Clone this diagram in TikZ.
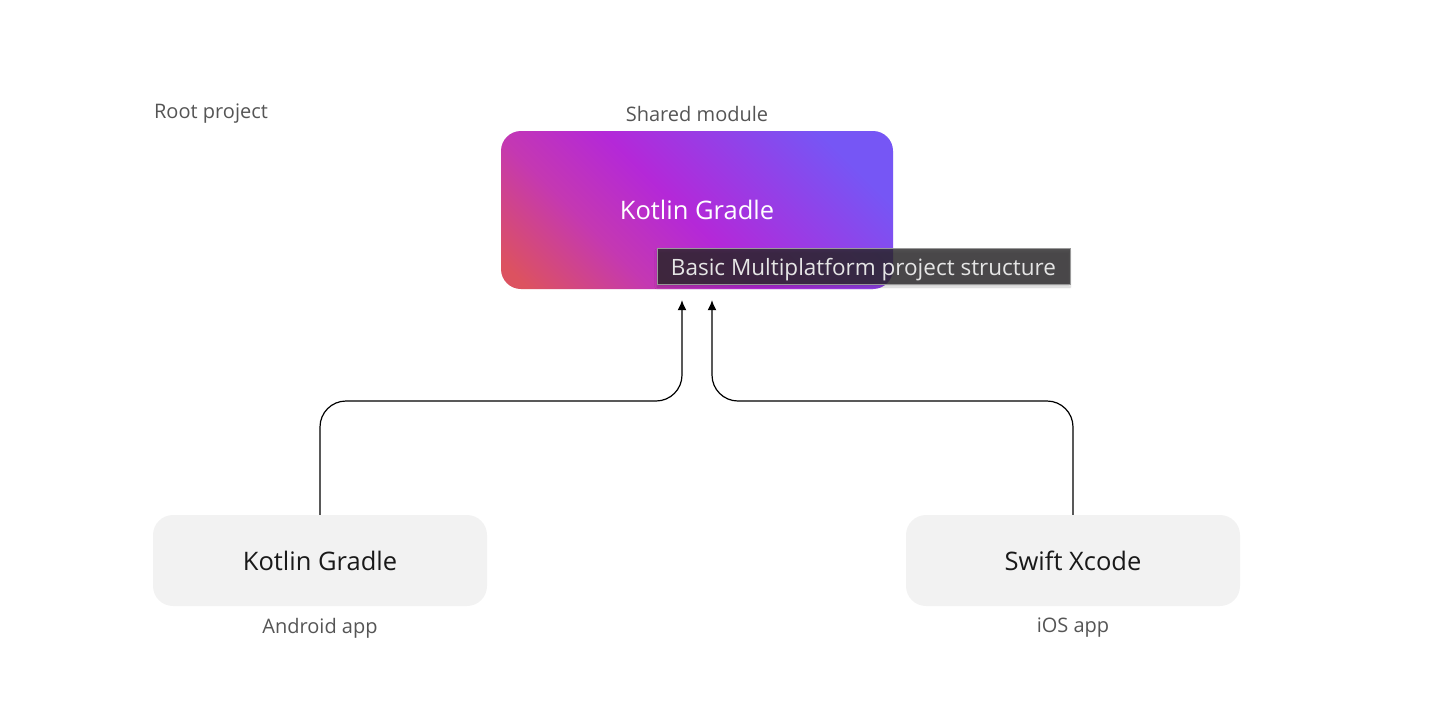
\documentclass[tikz,border=0pt]{standalone}
\usepackage{fontspec}
\setmainfont{Open Sans}
\usetikzlibrary{arrows.meta,shadows.blur}
\definecolor{kred}{RGB}{220,82,96}
\definecolor{kpink}{RGB}{196,56,178}
\definecolor{kpurple}{RGB}{180,40,216}
\definecolor{kblue}{RGB}{118,86,245}
\definecolor{boxgray}{RGB}{242,242,242}
\definecolor{labelgray}{RGB}{85,85,85}
\definecolor{tipfill}{RGB}{40,38,40}
\pgfdeclarehorizontalshading{kotlinshade}{100bp}{color(0bp)=(kred); color(18bp)=(kred); color(34bp)=(kpink); color(48bp)=(kpurple); color(76bp)=(kblue); color(100bp)=(kblue)}

\begin{document}
\begin{tikzpicture}[x=1pt,y=-1pt,
  module/.style={rounded corners=20pt,minimum width=334pt,minimum height=91pt,fill=boxgray,font=\fontsize{25.5}{30}\selectfont,text=black!90},
  caption/.style={text=labelgray,font=\fontsize{20}{24}\selectfont},
  link/.style={-{Latex[length=10pt,width=9pt]},line width=1.2pt,rounded corners=26pt}]
\useasboundingbox(0,0)rectangle(1430,716);
% shared module on top
\node[module,shading=kotlinshade,shading angle=45,minimum width=392pt,minimum height=158pt,text=white](shared)at(697,210){Kotlin Gradle};
\node[caption](rootlbl)at(211,114){Root project};
\node[caption](sharedlbl)at(697,114){Shared module};
% the two apps
\node[module](android)at(320,560.5){Kotlin Gradle};
\node[module](ios)at(1073,560.5){Swift Xcode};
\node[caption](androidlbl)at(320,628){Android app};
\node[caption](ioslbl)at(1073,628){iOS app};
\coordinate(bend)at(697,401);
\draw[link,shorten >=11pt](android.north)|-([xshift=-15pt]bend)--([xshift=-15pt]shared.south);
\draw[link,shorten >=11pt](ios.north)|-([xshift=15pt]bend)--([xshift=15pt]shared.south);
% tooltip over the box
\node[fill=tipfill,fill opacity=0.8,text opacity=1,draw=gray!80,line width=1pt,minimum width=413pt,minimum height=36pt,text height=18pt,text depth=0pt,text=white!90!black,font=\fontsize{22.5}{26}\selectfont,blur shadow={shadow xshift=0pt,shadow yshift=-3pt,shadow blur steps=6,shadow opacity=25}](tip)at(863.5,266){Basic Multiplatform project structure};
\end{tikzpicture}
\end{document}
